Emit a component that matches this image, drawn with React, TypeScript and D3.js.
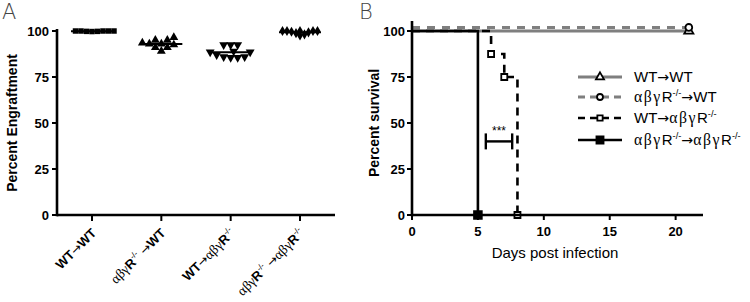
import React from 'react';
import * as d3 from 'd3';

// ---------- Panel A data ----------
const groupsA = ['WT→WT', 'αβγR^-/- →WT', 'WT→αβγR^-/-', 'αβγR^-/- →αβγR^-/-'];
const engWT_WT = [100, 100, 100, 99.8, 99.8, 100, 99.7, 100];
const engKO_WT = [96.5, 95, 95, 93.5, 93, 93, 92.5, 91, 91, 89];
const engWT_KO = [92.5, 92.5, 92.5, 89, 88.5, 88.5, 87, 86, 85.5, 85.5, 86];
const engKO_KO = [97.6, 98.2, 98.8, 99.3, 99.6, 100, 100, 100, 100, 100];
const yTicksA = [0, 25, 50, 75, 100];

// ---------- Panel B data ----------
const seriesB = ['WT→WT', 'αβγR^-/-→WT', 'WT→αβγR^-/-', 'αβγR^-/-→αβγR^-/-'];
const kmWT_WT_days = [0, 21];
const kmWT_WT_surv = [100, 100];
const kmKO_WT_days = [0, 21];
const kmKO_WT_surv = [100, 100];
const kmWT_KO_days = [0, 6, 7, 8];
const kmWT_KO_surv = [100, 87.5, 75, 0];
const kmKO_KO_days = [0, 5];
const kmKO_KO_surv = [100, 0];
const dayTicks = [0, 5, 10, 15, 20];
const survTicks = [0, 25, 50, 75, 100];
const sigDays = [5.6, 7.6];
const sigLevel = 40;
const sigLabel = '***';

const SANS = "'Liberation Sans', Arial, sans-serif";
const SERIF = "'Liberation Serif', 'Times New Roman', serif";
const ARROW = "'DejaVu Sans', sans-serif";

type Seg = { text: string; kind: 'greek' | 'sup' | 'plain' | 'arrow' };
function parseLabel(label: string): Seg[] {
  const segs: Seg[] = [];
  let i = 0;
  while (i < label.length) {
    const ch = label[i];
    if (ch === '^') {
      let j = i + 1;
      while (j < label.length && label[j] !== '→' && label[j] !== ' ') j++;
      segs.push({ text: label.slice(i + 1, j), kind: 'sup' });
      i = j;
      continue;
    }
    const kind = 'αβγ'.includes(ch) ? 'greek' : ch === '→' ? 'arrow' : 'plain';
    const last = segs[segs.length - 1];
    if (last && last.kind === kind) last.text += ch;
    else segs.push({ text: ch, kind });
    i++;
  }
  return segs;
}

function RichText({ label, size, bold, greekSpacing = 0 }: { label: string; size: number; bold: boolean; greekSpacing?: number }) {
  const segs = parseLabel(label);
  let shift = 0;
  return (
    <>
      {segs.map((s, k) => {
        let dy = 0;
        if (s.kind === 'sup') {
          dy = -size * 0.42 - shift;
          shift = -size * 0.42;
        } else {
          dy = -shift;
          shift = 0;
        }
        const common = { key: k, dy: dy || undefined } as any;
        if (s.kind === 'sup')
          return (
            <tspan {...common} fontFamily={SANS} fontSize={size * 0.62} fontWeight="normal">
              {s.text}
            </tspan>
          );
        if (s.kind === 'greek')
          return (
            <tspan {...common} fontFamily={SERIF} fontSize={size * 1.05} fontWeight="normal" letterSpacing={greekSpacing}>
              {s.text}
            </tspan>
          );
        if (s.kind === 'arrow')
          return (
            <tspan {...common} fontFamily={ARROW} fontWeight="normal" fontSize={size * 0.95}>
              {s.text}
            </tspan>
          );
        return (
          <tspan {...common} fontFamily={SANS} fontWeight={bold ? 'bold' : 'normal'}>
            {s.text}
          </tspan>
        );
      })}
    </>
  );
}

function swarm(values: number[], y: (v: number) => number, cx: number, minDist: number) {
  const order = values.map((_, i) => i).sort((a, b) => values[a] - values[b]);
  const placed: { x: number; y: number }[] = [];
  const out: { x: number; y: number }[] = new Array(values.length);
  for (const i of order) {
    const py = y(values[i]);
    let px = cx;
    for (let k = 0; k < 200; k++) {
      const off = Math.ceil(k / 2) * 0.5 * (k % 2 === 1 ? 1 : -1);
      px = cx + off;
      if (placed.every((p) => Math.hypot(p.x - px, p.y - py) >= minDist)) break;
    }
    placed.push({ x: px, y: py });
    out[i] = { x: px, y: py };
  }
  return out;
}

export default function App() {
  // Panel A scales
  const xA = d3.scalePoint<string>().domain(groupsA).range([92, 300]);
  const yA = d3.scaleLinear().domain([0, 100]).range([215, 31]);
  const dataA = [engWT_WT, engKO_WT, engWT_KO, engKO_KO];
  const symA = [
    d3.symbol().type(d3.symbolSquare).size(30)(),
    d3.symbol().type(d3.symbolTriangle).size(34)(),
    d3.symbol().type(d3.symbolTriangle).size(34)(),
    d3.symbol().type(d3.symbolDiamond).size(30)(),
  ];
  const rotA = [0, 0, 180, 0];
  const minDistA = [5.2, 7, 7, 4.4];

  // Panel B scales
  const xB = d3.scaleLinear().domain([0, 22]).range([412, 702]);
  const yB = d3.scaleLinear().domain([0, 100]).range([215, 31]);
  const kmData = [
    { days: kmWT_WT_days, surv: kmWT_WT_surv },
    { days: kmKO_WT_days, surv: kmKO_WT_surv },
    { days: kmWT_KO_days, surv: kmWT_KO_surv },
    { days: kmKO_KO_days, surv: kmKO_KO_surv },
  ];
  const styleB = [
    { color: '#7f7f7f', dash: undefined, nudge: 0, marker: 'triangle', fill: 'white', width: 3 },
    { color: '#7f7f7f', dash: '8,7', nudge: -3.6, marker: 'circle', fill: 'white', width: 3 },
    { color: '#000', dash: '8,6', nudge: 0, marker: 'square', fill: 'white', width: 2.6 },
    { color: '#000', dash: undefined, nudge: 0, marker: 'square', fill: '#000', width: 2.6 },
  ];
  const markerPath = (m: string, size: number) => {
    const t = m === 'triangle' ? d3.symbolTriangle : m === 'circle' ? d3.symbolCircle : d3.symbolSquare;
    return d3.symbol().type(t).size(size)();
  };
  const stepLine = d3
    .line<[number, number]>()
    .x((d) => xB(d[0]))
    .y((d) => yB(d[1]))
    .curve(d3.curveStepAfter);

  const axisW = 2.6;
  const legendRows = [77, 97, 118, 140];

  return (
    <svg width={750} height={302} style={{ position: 'absolute', left: 0, top: 0, background: '#fff' }} fontFamily={SANS}>
      <rect width={750} height={302} fill="#fff" />
      {/* Panel letters */}
      <text x={2} y={19} fontSize={21} fill="#444" fontFamily="'DejaVu Sans', sans-serif" fontWeight={200}>A</text>
      <text x={359} y={19} fontSize={21} fill="#444" fontFamily="'DejaVu Sans', sans-serif" fontWeight={200}>B</text>

      {/* ===== Panel A ===== */}
      <g>
        <line x1={57} x2={57} y1={yA(100) - 2} y2={yA(0) + axisW / 2} stroke="#000" strokeWidth={axisW} />
        <line x1={57} x2={335} y1={yA(0)} y2={yA(0)} stroke="#000" strokeWidth={axisW} />
        {yTicksA.map((t) => (
          <g key={t}>
            <line x1={52} x2={57} y1={yA(t)} y2={yA(t)} stroke="#000" strokeWidth={2} />
            <text x={49} y={yA(t)} dy="0.36em" textAnchor="end" fontSize={13} fontWeight="bold">{t}</text>
          </g>
        ))}
        {groupsA.map((g) => (
          <g key={g}>
            <line x1={xA(g)} x2={xA(g)} y1={yA(0)} y2={yA(0) + 6} stroke="#000" strokeWidth={2} />
            <text transform={`translate(${(xA(g) as number) + 5},${yA(0) + 19}) rotate(-45)`} textAnchor="end" fontSize={13}>
              <RichText label={g} size={13} bold={true} />
            </text>
          </g>
        ))}
        <text transform={`translate(17,${(yA(0) + yA(100)) / 2}) rotate(-90)`} textAnchor="middle" fontSize={14} fontWeight="bold">
          Percent Engraftment
        </text>
        {dataA.map((vals, gi) => {
          const cx = xA(groupsA[gi]) as number;
          const pts = swarm(vals, yA, cx, minDistA[gi]);
          const m = d3.mean(vals) as number;
          return (
            <g key={gi}>
              {pts.map((p, k) => (
                <path key={k} d={symA[gi] as string} transform={`translate(${p.x},${p.y}) rotate(${rotA[gi]})`} fill="#000" />
              ))}
              <line x1={cx - 21} x2={cx + 21} y1={yA(m)} y2={yA(m)} stroke="#000" strokeWidth={2} />
            </g>
          );
        })}
      </g>

      {/* ===== Panel B ===== */}
      <g>
        {kmData.map((s, i) => {
          const st = styleB[i];
          const pts = s.days.map((d, k) => [d, s.surv[k]] as [number, number]);
          return (
            <g key={i} transform={`translate(0,${st.nudge})`}>
              <path d={stepLine(pts) as string} fill="none" stroke={st.color} strokeWidth={st.width} strokeDasharray={st.dash} />
            </g>
          );
        })}
        {kmData.map((s, i) => {
          const st = styleB[i];
          return (
            <g key={i} transform={`translate(0,${st.nudge})`}>
              {s.days.slice(1).map((d, k) => (
                <path
                  key={k}
                  d={markerPath(st.marker, st.fill === '#000' ? 60 : 36) as string}
                  transform={`translate(${xB(d)},${yB(s.surv[k + 1])})`}
                  fill={st.fill}
                  stroke="#000"
                  strokeWidth={1.8}
                />
              ))}
            </g>
          );
        })}
        <line x1={412} x2={412} y1={21} y2={yB(0) + axisW / 2} stroke="#000" strokeWidth={axisW} />
        <line x1={412} x2={703} y1={yB(0)} y2={yB(0)} stroke="#000" strokeWidth={axisW} />
        {survTicks.map((t) => (
          <g key={t}>
            <line x1={407} x2={412} y1={yB(t)} y2={yB(t)} stroke="#000" strokeWidth={2} />
            <text x={405} y={yB(t)} dy="0.36em" textAnchor="end" fontSize={13} fontWeight="bold">{t}</text>
          </g>
        ))}
        {dayTicks.map((t) => (
          <g key={t}>
            <line x1={xB(t)} x2={xB(t)} y1={yB(0)} y2={yB(0) + 5} stroke="#000" strokeWidth={2} />
            <text x={xB(t)} y={yB(0) + 21} textAnchor="middle" fontSize={13} fontWeight="bold">{t}</text>
          </g>
        ))}
        <text x={(xB(0) + xB(22)) / 2 - 2} y={258} textAnchor="middle" fontSize={15}>Days post infection</text>
        <text transform={`translate(379,${(yB(0) + yB(100)) / 2}) rotate(-90)`} textAnchor="middle" fontSize={14} fontWeight="bold">
          Percent survival
        </text>
        {/* significance bracket */}
        <g stroke="#000" strokeWidth={2.4}>
          <line x1={xB(sigDays[0])} x2={xB(sigDays[1])} y1={yB(sigLevel)} y2={yB(sigLevel)} />
          <line x1={xB(sigDays[0])} x2={xB(sigDays[0])} y1={yB(sigLevel) - 8} y2={yB(sigLevel) + 8} />
          <line x1={xB(sigDays[1])} x2={xB(sigDays[1])} y1={yB(sigLevel) - 8} y2={yB(sigLevel) + 8} />
        </g>
        <text x={(xB(sigDays[0]) + xB(sigDays[1])) / 2} y={yB(sigLevel) - 6} textAnchor="middle" fontSize={12}>{sigLabel}</text>

        {/* legend */}
        {seriesB.map((name, i) => {
          const st = styleB[i];
          const y = legendRows[i];
          return (
            <g key={name}>
              <line x1={578} x2={622} y1={y} y2={y} stroke={st.color} strokeWidth={st.width} strokeDasharray={st.dash ? '7,5' : undefined} />
              <path d={markerPath(st.marker, st.fill === '#000' ? 50 : 28) as string} transform={`translate(600,${y})`} fill={st.fill} stroke="#000" strokeWidth={1.8} />
              <text x={634} y={y} dy="0.36em" fontSize={15}>
                <RichText label={name} size={15} bold={false} greekSpacing={1.5} />
              </text>
            </g>
          );
        })}
      </g>
    </svg>
  );
}
